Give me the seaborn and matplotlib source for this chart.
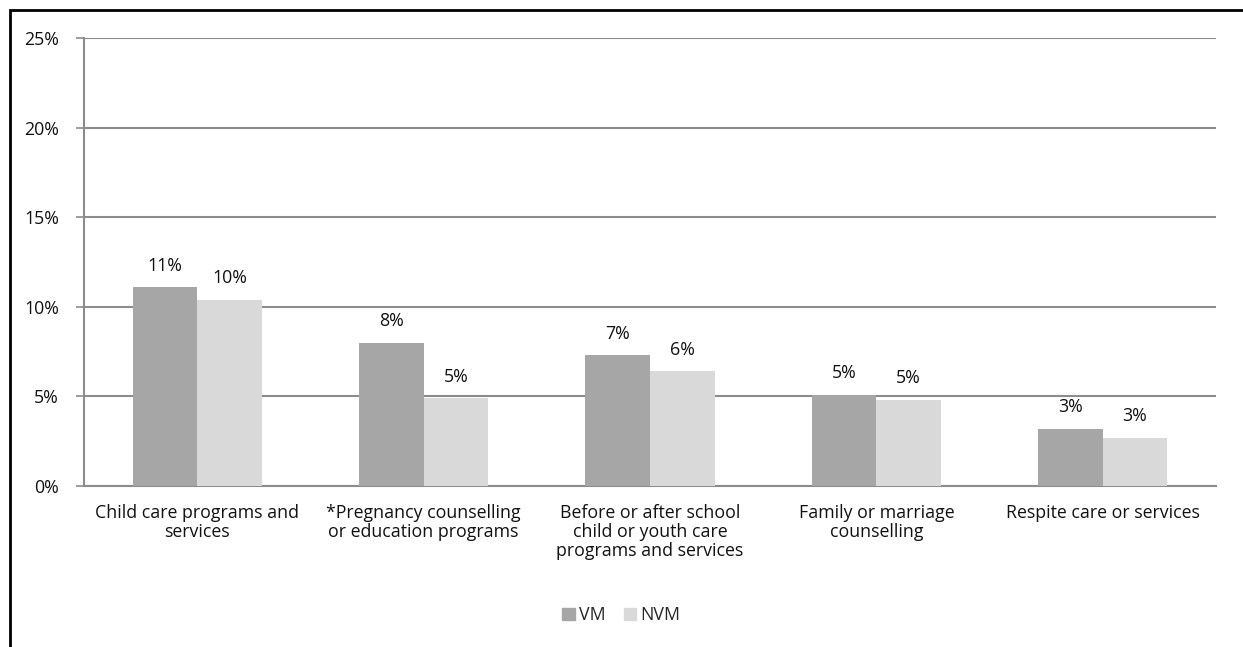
import matplotlib
matplotlib.use("Agg")
import matplotlib.pyplot as plt
import matplotlib.patches as mpatches
from matplotlib.ticker import FuncFormatter, MultipleLocator
import seaborn as sns
import pandas as pd

categories = [
    "Child care programs and\nservices",
    "*Pregnancy counselling\nor education programs",
    "Before or after school\nchild or youth care\nprograms and services",
    "Family or marriage\ncounselling",
    "Respite care or services",
]
vm_values = [11.1, 8.0, 7.3, 5.1, 3.2]
nvm_values = [10.4, 4.9, 6.4, 4.8, 2.7]
vm_labels = ["11%", "8%", "7%", "5%", "3%"]
nvm_labels = ["10%", "5%", "6%", "5%", "3%"]
series = ["VM", "NVM"]

df = pd.DataFrame({
    "category": categories * 2,
    "value": vm_values + nvm_values,
    "group": [series[0]] * len(categories) + [series[1]] * len(categories),
})

sns.set_theme(style="white")
plt.rcParams["font.family"] = ["Open Sans", "DejaVu Sans"]

W, H, DPI = 1243, 647, 100
FS = 12.8
TXT = "#111111"
fig = plt.figure(figsize=(W / DPI, H / DPI), dpi=DPI)
ax = fig.add_axes([84 / W, 1 - 486 / H, (1216 - 84) / W, (486 - 38) / H])

grid_col = "#8c8c8c"
palette = {"VM": "#a6a6a6", "NVM": "#d9d9d9"}

sns.barplot(data=df, x="category", y="value", hue="group", palette=palette,
            width=0.57, saturation=1, ax=ax, legend=True, zorder=3,
            edgecolor="none")

ax.set_ylim(0, 25)
ax.set_xlim(-0.5, len(categories) - 0.5)
ax.yaxis.set_major_locator(MultipleLocator(5))
ax.yaxis.set_major_formatter(FuncFormatter(lambda v, p: f"{v:.0f}%"))
ax.grid(axis="y", color=grid_col, linewidth=1.5, zorder=0)
ax.set_axisbelow(True)
for s in ["top", "right"]:
    ax.spines[s].set_visible(False)
for s in ["left", "bottom"]:
    ax.spines[s].set_color(grid_col)
    ax.spines[s].set_linewidth(1.5)

ax.set_xlabel("")
ax.set_ylabel("")
# Category labels centred under each group, ticks on group boundaries
ax.set_xticks(range(len(categories)))
ax.set_xticklabels(categories, fontsize=FS, color=TXT, linespacing=1.08)
ax.tick_params(axis="x", which="major", length=0, pad=13)
ax.set_xticks([i + 0.5 for i in range(-1, len(categories))], minor=True)
ax.tick_params(axis="x", which="minor", length=6, width=1.2, color=grid_col, direction="out")
ax.tick_params(axis="y", length=6, width=1.2, color=grid_col, direction="out",
               labelsize=FS, labelcolor=TXT, pad=12, left=True)

for cont, labels in zip(ax.containers, [vm_labels, nvm_labels]):
    ax.bar_label(cont, labels=labels, padding=9, fontsize=FS, color=TXT)

handles = [mpatches.Patch(color=palette[s], label=s) for s in series]
ax.legend(handles=handles, loc="center", bbox_to_anchor=(0.5, (H - 615) / H),
          bbox_transform=fig.transFigure, ncol=2, frameon=False, fontsize=FS,
          handlelength=0.7, handleheight=0.7, handletextpad=0.25, columnspacing=1.0)

# Outer frame of the chart area
fig.add_artist(mpatches.Rectangle((10 / W, -0.1), 1.2, 1 - 10 / H + 0.1,
                                  transform=fig.transFigure, fill=False,
                                  edgecolor="black", linewidth=2))

fig.savefig("out.png", dpi=DPI, facecolor="white")
